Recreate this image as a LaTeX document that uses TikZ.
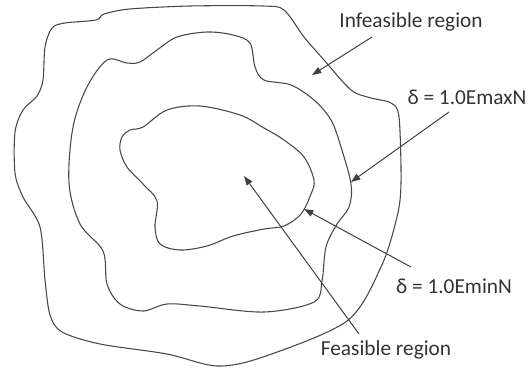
\documentclass[tikz,border=0pt]{standalone}
\usepackage{fontspec}
\setmainfont{Carlito}
\usetikzlibrary{arrows.meta}
\begin{document}
\begin{tikzpicture}[x=0.75pt,y=-0.75pt,
  region/.style={draw=black!72,line width=0.8pt},
  lbl/.style={font=\fontsize{16}{19}\selectfont,text=black!80,inner sep=1pt},
  pointer/.style={draw=black!75,line width=0.75pt,-{Triangle[length=7pt,width=5pt]}}]
\useasboundingbox (0,0) rectangle (528,368);
% outer
\draw[region] plot[smooth cycle,tension=0.5] coordinates {
 (190,6) (130,9) (104,14) (96,20) (65,23) (52,28) (45,47) (43,80) (37,96) (23,110)
 (15,132) (15,173) (23,197) (40,227) (45,280) (50,315) (62,332) (100,344) (167,354)
 (217,366) (263,357) (347,321) (381,267) (397,217) (401,183) (399,117) (391,103)
 (371,98) (351,90) (324,60) (304,37) (284,10) (263,6)};
% middle
\draw[region] plot[smooth cycle,tension=0.55] coordinates {
 (207,32) (177,37) (157,50) (140,62) (127,63) (107,60) (87,87) (73,127) (69,183)
 (80,224) (103,251) (107,284) (120,304) (143,311) (167,304) (200,306) (264,312)
 (314,302) (322,281) (326,247) (337,224) (349,207) (351,184) (341,147) (331,120)
 (314,100) (291,85) (264,80) (255,67) (250,43) (233,35)};
% inner
\draw[region] plot[smooth cycle,tension=0.55] coordinates {
 (200,106) (167,110) (143,127) (130,130) (122,137) (120,150) (127,167) (143,184)
 (157,201) (155,227) (160,244) (180,250) (207,246) (233,236) (264,229) (284,226)
 (301,214) (311,194) (314,180) (304,157) (284,140) (264,128) (240,115)};
% labels
\node[lbl] (inf) at (411,22) {Infeasible region};
\node[lbl] (dmax) at (467,97) {δ = 1.0EmaxN};
\node[lbl] (dmin) at (454,286) {δ = 1.0EminN};
\node[lbl] (feas) at (386,350) {Feasible region};
\coordinate (tinf) at (312,75);
\coordinate (tmax) at (351,182);
\coordinate (tmin) at (304,209);
\coordinate (tfeas) at (244,176);
\coordinate (sinf) at (372,37);
\coordinate (smax) at (449,112);
\coordinate (smin) at (411,267);
\coordinate (sfeas) at (359,334);
\draw[pointer] (sinf) -- (tinf);
\draw[pointer] (smax) -- (tmax);
\draw[pointer] (smin) -- (tmin);
\draw[pointer] (sfeas) -- (tfeas);
\end{tikzpicture}
\end{document}
